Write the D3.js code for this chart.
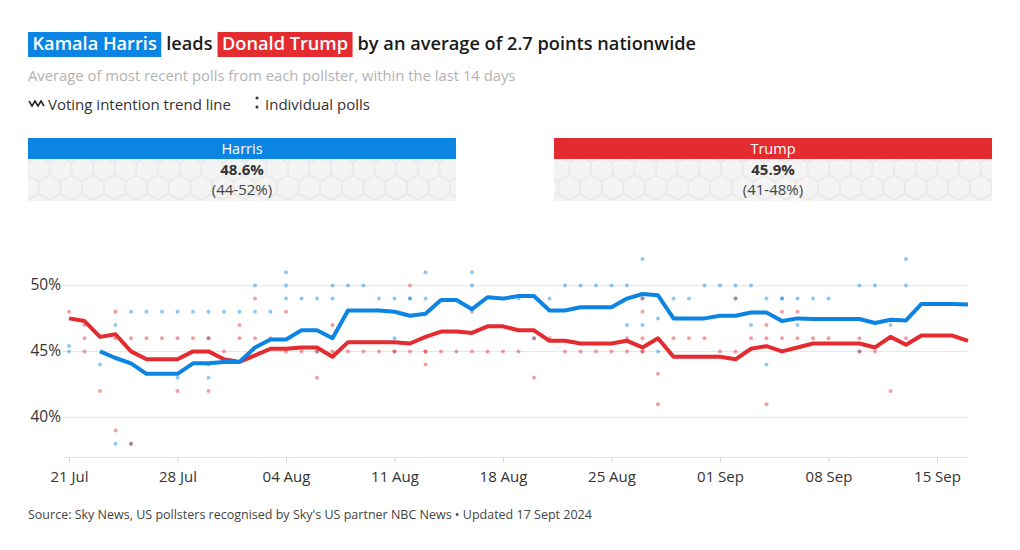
<!DOCTYPE html>
<html><head><meta charset="utf-8">
<script src="https://cdn.jsdelivr.net/npm/d3@7"></script>
<style>
body{margin:0;background:#fff;}
svg{display:block;font-family:"Open Sans","Noto Sans",sans-serif;}
</style></head>
<body><svg id="c" width="1020" height="550"></svg>
<script>
// ---- data ----
const startDate = "2024-07-21";
const harrisTrend = [null,null,45.0,44.5,44.1,43.3,43.3,43.3,44.1,44.1,44.2,44.2,45.3,45.9,45.9,46.6,46.6,46.0,48.1,48.1,48.1,48.0,47.7,47.85,48.9,48.9,48.2,49.1,49.0,49.2,49.2,48.1,48.1,48.35,48.35,48.35,49.0,49.35,49.25,47.5,47.5,47.5,47.7,47.7,47.95,47.95,47.3,47.5,47.45,47.45,47.45,47.45,47.15,47.4,47.35,48.6,48.6,48.6,48.55];
const trumpTrend = [47.5,47.3,46.1,46.3,45.0,44.4,44.4,44.4,45.0,45.0,44.4,44.2,44.7,45.2,45.2,45.3,45.3,44.6,45.7,45.7,45.7,45.7,45.6,46.1,46.5,46.5,46.4,46.9,46.9,46.6,46.6,45.8,45.8,45.6,45.6,45.6,45.8,45.3,46.0,44.6,44.6,44.6,44.6,44.4,45.2,45.4,45.0,45.3,45.6,45.6,45.6,45.6,45.3,46.1,45.5,46.2,46.2,46.2,45.8];
// individual polls: [day offset from start, value]
const harrisPolls = [[0,45.4],[0,45],[2,44],[3,47],[3,38],[4,48],[4,38],[5,48],[6,48],[7,48],[7,43],[8,48],[9,48],[9,46],[9,43],[10,48],[11,48],[12,50],[12,48],[13,48],[14,51],[14,50],[14,49],[15,49],[16,49],[16,45],[17,50],[17,49],[18,50],[19,50],[20,49],[21,49],[21,46],[22,49],[22,49],[23,51],[23,49],[26,51],[26,50],[29,49],[30,46],[31,49],[32,50],[33,50],[34,50],[35,50],[36,50],[36,47],[37,52],[37,49],[37,47],[38,47.5],[38,45],[39,49],[40,49],[41,50],[42,50],[43,50],[43,49],[44,50],[44,47],[45,49],[45,44],[46,49],[46,49],[47,49],[47,47],[48,49],[49,49],[51,50],[51,45],[52,50],[53,47],[54,52],[54,50]];
const trumpPolls = [[0,48],[1,47],[1,46],[1,45],[2,42],[3,48],[3,46],[3,39],[4,46],[4,38],[5,46],[6,46],[7,46],[7,42],[8,46],[9,46],[9,44],[9,42],[10,45],[11,47],[11,46],[12,49],[12,46],[13,46],[14,48],[14,45],[15,45],[16,45],[16,43],[17,47],[17,45],[18,45],[19,45],[20,45],[21,45],[21,45],[22,50],[22,45],[23,45],[23,45],[23,44],[24,45],[25,45],[26,48],[26,45],[27,45],[28,45],[29,45],[30,46],[30,43],[31,46],[32,45],[33,45],[34,45],[35,45],[36,46],[36,45],[37,49],[37,48],[37,46],[37,45],[37,45],[38,43.3],[38,41],[39,46],[40,46],[41,46],[42,45],[43,49],[43,45],[44,46],[45,47],[45,46],[45,41],[46,48],[46,46],[47,48],[47,46],[48,46],[49,46],[51,46],[51,45],[52,45],[53,42],[54,46]];
const yTicks = [40,45,50];
const xTickDates = ["2024-07-21","2024-07-28","2024-08-04","2024-08-11","2024-08-18","2024-08-25","2024-09-01","2024-09-08","2024-09-15"];
const candidates = ["Harris","Trump"];
const averages = ["48.6%","45.9%"];
const ranges = ["(44-52%)","(41-48%)"];
const titleParts = ["Kamala Harris","leads","Donald Trump","by an average of 2.7 points nationwide"];

const BLUE = "#0b84e3", RED = "#e42b2f";
const FONT = "'Open Sans','Noto Sans',sans-serif";
const svg = d3.select("#c");
const parse = d3.utcParse("%Y-%m-%d");
const t0 = parse(startDate);
const dayDate = d => d3.utcDay.offset(t0, d);

// ---- defs: hex pattern ----
const defs = svg.append("defs");
const R = 12.5, W = R*Math.sqrt(3), H = R*3;
const pat = defs.append("pattern").attr("id","hex").attr("patternUnits","userSpaceOnUse")
  .attr("width",W).attr("height",H).attr("x",28).attr("y",150);
pat.append("rect").attr("width",W).attr("height",H).attr("fill","#f4f4f4");
function hexPath(cx,cy){const p=[];for(let i=0;i<6;i++){const a=Math.PI/3*i+Math.PI/6;p.push([cx+R*Math.cos(a),cy+R*Math.sin(a)]);}return "M"+p.map(q=>q.join(",")).join("L")+"Z";}
[[0,0],[W,0],[W/2,1.5*R],[-W/2,1.5*R],[0,3*R],[W,3*R]].forEach(([cx,cy])=>{
  pat.append("path").attr("d",hexPath(cx,cy)).attr("fill","none").attr("stroke","#e7e7e7").attr("stroke-width",1.2);
});

// ---- title ----
const tg = svg.append("g");
let cx0 = 28;
const hl = [BLUE,null,RED,null];
titleParts.forEach((s,i)=>{
  const pad = hl[i] ? 4.5 : 0;
  const rect = hl[i] ? tg.append("rect").attr("x",cx0).attr("y",32).attr("height",25).attr("fill",hl[i]) : null;
  const t = tg.append("text").attr("x",cx0+pad).attr("y",50).attr("font-size",18.2).attr("font-weight",600)
    .attr("fill",hl[i]?"#fff":"#1a1a1a").text(s);
  const w = t.node().getComputedTextLength();
  if(rect) rect.attr("width",w+2*pad);
  cx0 += w + 2*pad + 5;
});

svg.append("text").attr("x",28).attr("y",81).attr("font-size",14.8).attr("fill","#b3b3b3")
  .text("Average of most recent polls from each pollster, within the last 14 days");

// legend
svg.append("path").attr("d","M29,101 L32,106 L35,101 L38,106 L41,101 L44,106").attr("fill","none").attr("stroke","#222").attr("stroke-width",1.5);
svg.append("text").attr("x",48).attr("y",110).attr("font-size",15).attr("fill","#333").text("Voting intention trend line");
svg.append("circle").attr("cx",257).attr("cy",98).attr("r",1.5).attr("fill","#333");
svg.append("circle").attr("cx",257).attr("cy",107).attr("r",1.5).attr("fill","#333");
svg.append("text").attr("x",265).attr("y",110).attr("font-size",15).attr("fill","#333").text("Individual polls");

// ---- candidate boxes ----
const boxX = [28,554], boxW = [428,438];
candidates.forEach((c,i)=>{
  const g = svg.append("g");
  g.append("rect").attr("x",boxX[i]).attr("y",138).attr("width",boxW[i]).attr("height",21).attr("fill",i?RED:BLUE);
  g.append("rect").attr("x",boxX[i]).attr("y",159).attr("width",boxW[i]).attr("height",42).attr("fill","url(#hex)");
  const cx = boxX[i]+boxW[i]/2;
  g.append("text").attr("x",cx).attr("y",154).attr("text-anchor","middle").attr("font-size",14.5).attr("fill","#fff").text(c);
  g.append("text").attr("x",cx).attr("y",175).attr("text-anchor","middle").attr("font-size",15).attr("font-weight",700).attr("fill","#333").text(averages[i]);
  g.append("text").attr("x",cx).attr("y",195).attr("text-anchor","middle").attr("font-size",15).attr("fill","#444").text(ranges[i]);
});

// ---- chart ----
const x = d3.scaleUtc().domain([t0, dayDate(58)]).range([69,968]);
const y = d3.scaleLinear().domain([37,53]).range([457,245.8]);

// gridlines
svg.append("g").selectAll("line").data(yTicks).join("line")
  .attr("x1",63).attr("x2",968).attr("y1",d=>y(d)).attr("y2",d=>y(d)).attr("stroke","#e6e6e6");
svg.append("g").selectAll("text").data(yTicks).join("text")
  .attr("x",61).attr("y",d=>y(d)+5).attr("text-anchor","end").attr("font-size",15.5).attr("fill","#333").text(d=>d+"%");

// x axis
const xa = svg.append("g").attr("transform","translate(0,457)")
  .call(d3.axisBottom(x).tickValues(xTickDates.map(parse)).tickFormat(d3.utcFormat("%d %b")).tickSize(6).tickSizeOuter(0));
xa.select(".domain").attr("stroke","#e6e6e6").attr("d","M63,0.5H968");
xa.selectAll(".tick line").attr("stroke","#d9d9d9");
xa.selectAll(".tick text").attr("font-size",15).attr("fill","#333").attr("font-family",FONT).attr("dy","1.05em");

// polls
const dots = svg.append("g");
dots.selectAll(".h").data(harrisPolls).join("circle").attr("class","h")
  .attr("cx",d=>x(dayDate(d[0]))).attr("cy",d=>y(d[1])).attr("r",2).attr("fill",BLUE).attr("fill-opacity",0.45);
dots.selectAll(".t").data(trumpPolls).join("circle").attr("class","t")
  .attr("cx",d=>x(dayDate(d[0]))).attr("cy",d=>y(d[1])).attr("r",2).attr("fill",RED).attr("fill-opacity",0.45);

// trend lines
const line = d3.line().defined(d=>d!=null).x((d,i)=>x(dayDate(i))).y(d=>y(d));
svg.append("path").datum(trumpTrend).attr("d",line).attr("fill","none").attr("stroke",RED).attr("stroke-width",4).attr("stroke-linejoin","round");
svg.append("path").datum(harrisTrend).attr("d",line).attr("fill","none").attr("stroke",BLUE).attr("stroke-width",4).attr("stroke-linejoin","round");

// source
svg.append("text").attr("x",28).attr("y",519).attr("font-size",12.5).attr("fill","#444")
  .text("Source: Sky News, US pollsters recognised by Sky's US partner NBC News \u2022 Updated 17 Sept 2024");
</script></body></html>
